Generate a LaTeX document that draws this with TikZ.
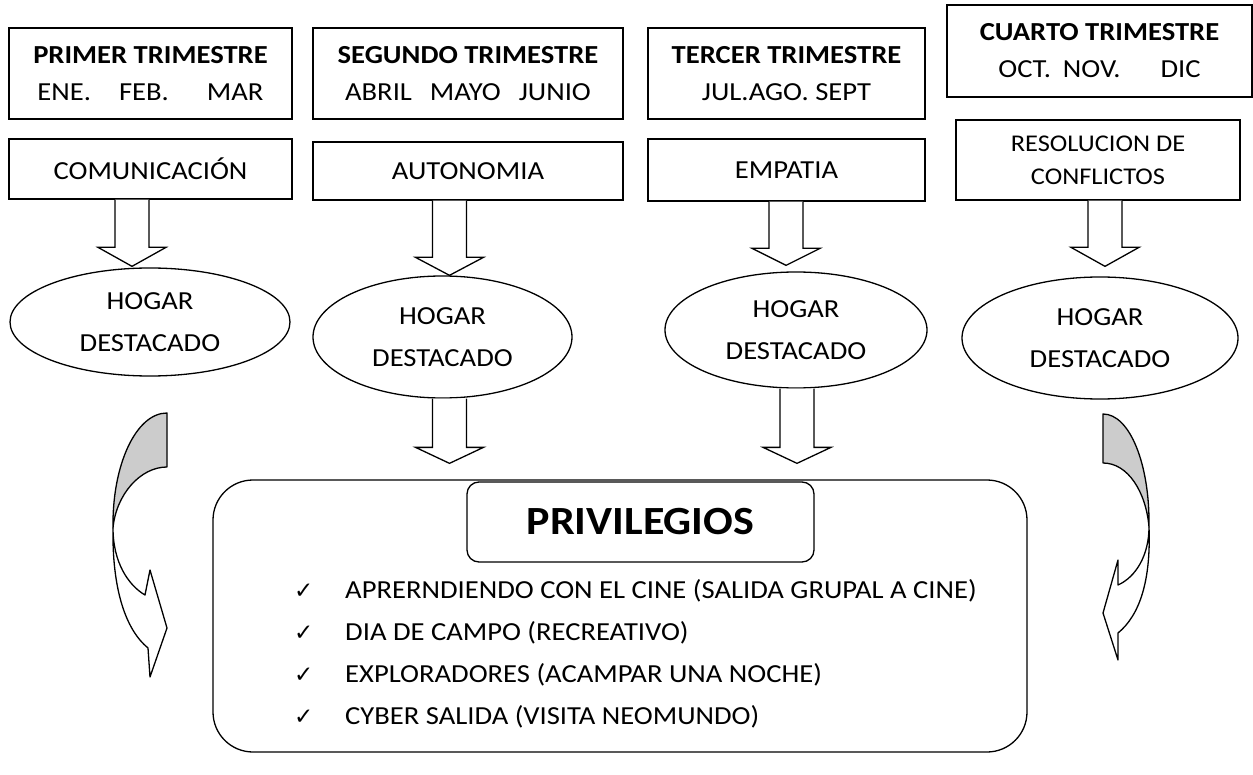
\documentclass[tikz,border=0pt]{standalone}
\usepackage{fontspec}
\setmainfont{Carlito}[FakeStretch=1.1]
\newfontfamily\symfont{DejaVu Sans}
\usetikzlibrary{shapes.geometric,calc}
\newcommand\blockarrow[5]{% source, target, axis coordinate, tip gap, head length
  \coordinate (tip) at ($(#3 |- #2.north)+(0,-#4)$);
  \draw[blk] ($(#3 |- #1.south)+(-17,0)$) -- ($(tip)+(-17,-#5)$) -- ($(tip)+(-34,-#5)$) -- (tip)
    -- ($(tip)+(34,-#5)$) -- ($(tip)+(17,-#5)$) -- ($(#3 |- #1.south)+(17,0)$);}
\begin{document}
\begin{tikzpicture}[x=1pt,y=-1pt,
  every node/.style={inner sep=0pt},
  lw/.style={line width=1.3pt},
  box/.style={draw,lw,align=center,font=\fontsize{26}{37}\selectfont},
  oval/.style={draw,lw,ellipse,align=center,font=\fontsize{26}{42}\selectfont},
  blk/.style={draw,lw,fill=white,line join=miter},
  curv/.style={draw,lw,line join=round},
  listitem/.style={anchor=base west,font=\fontsize{26}{30}\selectfont},
  chk/.style={anchor=base west,font=\symfont\fontsize{23}{25}\selectfont}]
\useasboundingbox (0,0) rectangle (1253,775);

% quarter boxes
\node[box,minimum width=283,minimum height=91] (b1) at (150.5,73.5)
  {\textbf{PRIMER TRIMESTRE}\\ENE.\hspace{28pt}FEB.\hspace{38pt}MAR};
\node[box,minimum width=310,minimum height=91] (b2) at (468,73.5)
  {\textbf{SEGUNDO TRIMESTRE}\\ABRIL\hspace{18pt}MAYO\hspace{18pt}JUNIO};
\node[box,minimum width=277,minimum height=91] (b3) at (786.5,73.5)
  {\textbf{TERCER TRIMESTRE}\\JUL.AGO. SEPT};
\node[box,minimum width=305,minimum height=92] (b4) at (1099.5,51)
  {\textbf{CUARTO TRIMESTRE}\\OCT.\hspace{12pt}NOV.\hspace{40pt}DIC};

% values
\node[box,minimum width=283,minimum height=60] (c1) at (150.5,169) {COMUNICACIÓN};
\node[box,minimum width=310,minimum height=58] (c2) at (468,171) {AUTONOMIA};
\node[box,minimum width=277,minimum height=62] (c3) at (786.5,170) {EMPATIA};
\node[box,minimum width=284,minimum height=80,font=\fontsize{24}{33}\selectfont] (c4) at (1098,160)
  {RESOLUCION DE\\CONFLICTOS};

% ellipses
\node[oval,minimum width=280,minimum height=108] (e1) at (150,322) {HOGAR\\DESTACADO};
\node[oval,minimum width=259,minimum height=122] (e2) at (442.5,337) {HOGAR\\DESTACADO};
\node[oval,minimum width=262,minimum height=116] (e3) at (796,330) {HOGAR\\DESTACADO};
\node[oval,minimum width=276,minimum height=122] (e4) at (1100,338) {HOGAR\\DESTACADO};

% privileges box
\node[draw,lw,rounded corners=40pt,minimum width=814,minimum height=272] (big) at (620,616) {};
\node[draw,lw,rounded corners=12pt,fill=white,minimum width=347,minimum height=80,
  font=\bfseries\fontsize{40}{44}\selectfont] (priv) at (640.5,522) {PRIVILEGIOS};

\node[chk] (k1) at (294,598) {✓};
\node[listitem] (t1) at (345,598) {APRERNDIENDO CON EL CINE (SALIDA GRUPAL A CINE)};
\node[chk] (k2) at (294,640) {✓};
\node[listitem] (t2) at (345,640) {DIA DE CAMPO (RECREATIVO)};
\node[chk] (k3) at (294,682) {✓};
\node[listitem] (t3) at (345,682) {EXPLORADORES (ACAMPAR UNA NOCHE)};
\node[chk] (k4) at (294,724) {✓};
\node[listitem] (t4) at (345,724) {CYBER SALIDA (VISITA NEOMUNDO)};

% block arrows
\coordinate (x1) at (132,0);
\coordinate (x2) at (449.5,0);
\coordinate (x3) at (786,0);
\coordinate (x4) at (1105,0);
\coordinate (x5) at (449.5,0);
\coordinate (x6) at (797,0);
\blockarrow{c1}{e1}{x1}{1}{19}
\blockarrow{c2}{e2}{x2}{0}{18}
\blockarrow{c3}{e3}{x3}{6}{17}
\blockarrow{c4}{e4}{x4}{10}{19}
\blockarrow{e2}{big}{x5}{16}{16}
\blockarrow{e3}{big}{x6}{16}{16}

% curved arrows, left
\filldraw[curv,fill=gray!40] (167,413) .. controls (136,413) and (112,465) .. (113,528)
  .. controls (116,495) and (140,467) .. (167,467) -- cycle;
\draw[curv,fill=white] (113,528) .. controls (113,562) and (128,585) .. (145,595)
  -- (150,570) -- (167,628) -- (150,677) -- (148,648)
  .. controls (126,630) and (112,590) .. (113,528) -- cycle;
% curved arrows, right
\filldraw[curv,fill=gray!40] (1103,414) .. controls (1130,414) and (1150,465) .. (1149,527)
  .. controls (1146,492) and (1128,463) .. (1103,463) -- cycle;
\draw[curv,fill=white] (1149,527) .. controls (1149,555) and (1136,577) .. (1118,585)
  -- (1118,560) -- (1103,613) -- (1118,660) -- (1118,633)
  .. controls (1140,615) and (1151,580) .. (1149,527) -- cycle;
\end{tikzpicture}
\end{document}
